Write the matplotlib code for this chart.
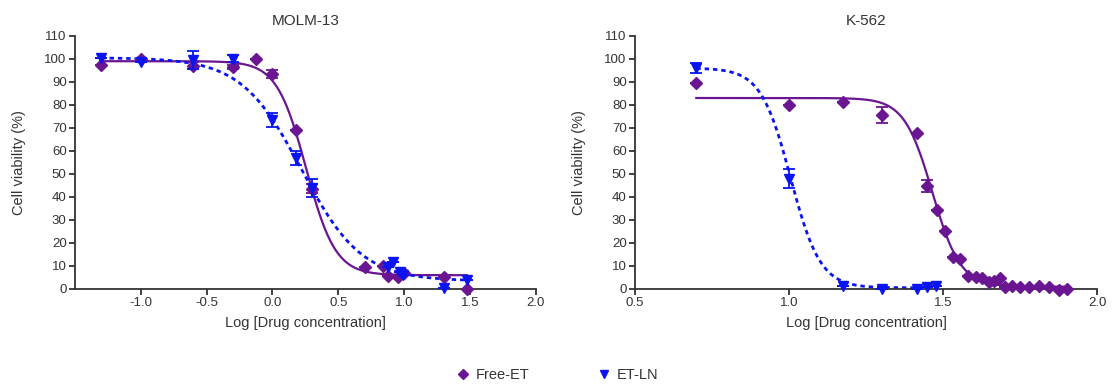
import numpy as np
import matplotlib
matplotlib.use('Agg')
import matplotlib.pyplot as plt
from matplotlib.lines import Line2D

plt.rcParams['font.family'] = ['Liberation Sans', 'DejaVu Sans']

purple = '#6A1591'
blue = '#0A14F0'
txt = '#333333'

# MOLM-13 data (log concentration, % viability, SEM)
molm_free_x = [-1.301, -1.0, -0.602, -0.301, -0.125, 0.0, 0.176, 0.301, 0.702, 0.841, 0.879, 0.955, 0.998, 1.301, 1.477]
molm_free_y = [97.5, 100, 97, 96.5, 99.8, 93.5, 69.3, 43.5, 9.7, 10, 5.6, 5.3, 7, 5.3, 0]
molm_free_err = [0, 0, 1.5, 1, 0, 1.8, 0, 2, 0, 0, 0, 0, 0, 0, 0]

molm_ln_x = [-1.301, -1.0, -0.602, -0.301, 0.0, 0.176, 0.301, 0.879, 0.917, 0.968, 0.993, 1.301, 1.477]
molm_ln_y = [100.5, 98.5, 99.5, 100, 73.5, 57, 44, 9.7, 11.8, 7.5, 6, 0.5, 3.8]
molm_ln_err = [0, 0, 4, 1.5, 3, 3, 4, 0, 0, 0, 0, 0, 0]

# K-562 data
k562_free_x = [0.699, 1.0, 1.176, 1.301, 1.415, 1.448, 1.481, 1.507, 1.532, 1.556, 1.580, 1.605,
               1.626, 1.648, 1.664, 1.683, 1.699, 1.724, 1.750, 1.777, 1.810, 1.842, 1.875, 1.902]
k562_free_y = [89.5, 80, 81.4, 75.8, 67.7, 44.7, 34.2, 25, 13.8, 13, 5.8, 5.4,
               4.7, 3.2, 3.6, 4.7, 1, 1.3, 1, 1, 1.4, 1, -0.3, 0]
k562_free_err = [0, 0, 0, 3.5, 0, 2.5] + [0] * 18

k562_ln_x = [0.699, 1.0, 1.176, 1.301, 1.416, 1.448, 1.478]
k562_ln_y = [96, 48, 1.5, 0, 0, 0.8, 1.5]
k562_ln_err = [2, 4, 0, 0, 0, 0, 0]

# fitted 4PL parameters: top, bottom, logIC50, hill
molm_free_fit = (99, 6, 0.255, 3.9)
molm_ln_fit = (100.5, 3.5, 0.22, 1.9)
k562_free_fit = (83, 1, 1.465, 9.5)
k562_ln_fit = (96, 0.5, 1.005, 9)


def logistic(x, p):
    top, bottom, c, h = p
    return bottom + (top - bottom) / (1 + 10 ** ((x - c) * h))


def panel(ax, title, fx, fy, fe, ffit, frange, lx, ly, le, lfit, lrange, xlim, xticks):
    xs = np.linspace(frange[0], frange[1], 400)
    ax.plot(xs, logistic(xs, ffit), color=purple, lw=1.6, zorder=2)
    xs = np.linspace(lrange[0], lrange[1], 400)
    ax.plot(xs, logistic(xs, lfit), color=blue, lw=2, ls=(0, (1.6, 1.4)), zorder=2)
    ax.errorbar(fx, fy, yerr=fe, fmt='D', color=purple, ms=6.5, capsize=4, elinewidth=1.3,
                capthick=1.3, clip_on=False, zorder=3)
    ax.errorbar(lx, ly, yerr=le, fmt='v', color=blue, ms=7, capsize=4, elinewidth=1.3,
                capthick=1.3, clip_on=False, zorder=4)
    ax.set_xlim(*xlim)
    ax.set_ylim(0, 110)
    ax.set_xticks(xticks)
    ax.set_xticklabels(['%.1f' % t for t in xticks])
    ax.set_yticks(range(0, 111, 10))
    ax.spines['top'].set_visible(False)
    ax.spines['right'].set_visible(False)
    for s in ['left', 'bottom']:
        ax.spines[s].set_linewidth(1.3)
        ax.spines[s].set_color(txt)
    ax.tick_params(direction='out', length=4, width=1.3, color=txt, labelcolor=txt, labelsize=9.5, pad=2)
    ax.set_title(title, fontsize=11, color=txt, pad=8)
    ax.set_xlabel('Log [Drug concentration]', fontsize=10.5, color=txt, labelpad=5)
    ax.set_ylabel('Cell viability (%)', fontsize=10.5, color=txt, labelpad=13)


fig = plt.figure(figsize=(11.14, 3.9), dpi=100)
ax1 = fig.add_axes([0.0673, 0.259, 0.4137, 0.649])
ax2 = fig.add_axes([0.570, 0.259, 0.415, 0.649])

panel(ax1, 'MOLM-13', molm_free_x, molm_free_y, molm_free_err, molm_free_fit, (-1.301, 1.477),
      molm_ln_x, molm_ln_y, molm_ln_err, molm_ln_fit, (-1.301, 1.477),
      (-1.5, 2.0), [-1.0, -0.5, 0.0, 0.5, 1.0, 1.5, 2.0])
panel(ax2, 'K-562', k562_free_x, k562_free_y, k562_free_err, k562_free_fit, (0.699, 1.902),
      k562_ln_x, k562_ln_y, k562_ln_err, k562_ln_fit, (0.699, 1.478),
      (0.5, 2.0), [0.5, 1.0, 1.5, 2.0])

handles = [Line2D([], [], ls='none', marker='D', color=purple, ms=5.5),
           Line2D([], [], ls='none', marker='v', color=blue, ms=6)]
fig.legend(handles, ['Free-ET', 'ET-LN'], loc='center', bbox_to_anchor=(0.5, 0.038), ncol=2,
           frameon=False, fontsize=10.5, labelcolor=txt, handlelength=1, handletextpad=0.4,
           columnspacing=4.6)

fig.savefig('out.png', dpi=100)
